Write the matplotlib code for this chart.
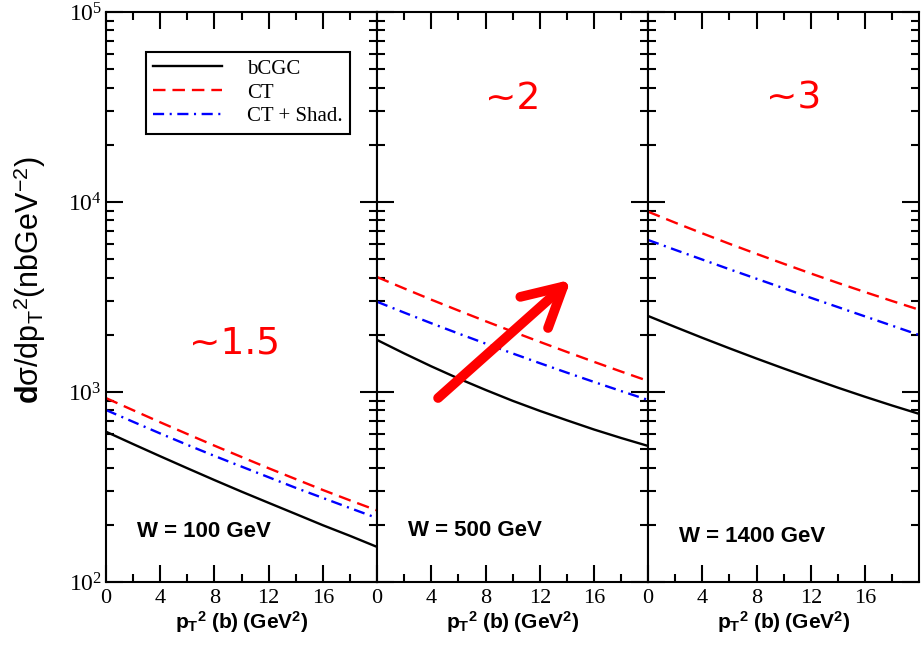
import matplotlib
matplotlib.use("Agg")
import matplotlib.pyplot as plt
from matplotlib.ticker import FixedLocator, NullFormatter, LogLocator

plt.rcParams["mathtext.fontset"] = "custom"
plt.rcParams["mathtext.rm"] = "Liberation Serif"
plt.rcParams["mathtext.sf"] = "Liberation Sans"
plt.rcParams["mathtext.bf"] = "Liberation Sans:bold"
plt.rcParams["mathtext.it"] = "Liberation Serif:italic"
plt.rcParams["lines.scale_dashes"] = False

# pT^2 grid (GeV^2)
pt2 = [0, 2, 4, 6, 8, 10, 12, 14, 16, 18, 20]

# dsigma/dpT^2 (nb GeV^-2), one set per energy
bcgc_100 = [618, 532, 459, 397, 344, 299, 261, 228, 199, 175, 153]
ct_100 = [929, 802, 693, 601, 522, 455, 397, 348, 305, 269, 238]
shad_100 = [804, 697, 605, 527, 461, 405, 356, 313, 277, 245, 217]

bcgc_500 = [1879, 1596, 1365, 1178, 1026, 899, 796, 710, 635, 573, 520]
ct_500 = [4027, 3508, 3062, 2685, 2360, 2080, 1837, 1626, 1442, 1282, 1143]
shad_500 = [2985, 2618, 2301, 2032, 1799, 1596, 1419, 1265, 1130, 1012, 908]

bcgc_1400 = [2512, 2198, 1928, 1698, 1500, 1330, 1183, 1054, 944, 849, 767]
ct_1400 = [8892, 7780, 6839, 6026, 5333, 4732, 4207, 3750, 3357, 3013, 2710]
shad_1400 = [6310, 5598, 4977, 4426, 3945, 3516, 3133, 2799, 2500, 2234, 1995]

energies = ["W = 100 GeV", "W = 500 GeV", "W = 1400 GeV"]
ratios = ["~1.5", "~2", "~3"]
series_names = ["bCGC", "CT", "CT + Shad."]

xticks = [0, 4, 8, 12, 16]
xticklabels = ["0", "4", "8", "12", "16"]
yticks = [1e2, 1e3, 1e4, 1e5]
yticklabels = [r"$\mathrm{10}^{\mathrm{2}}$", r"$\mathrm{10}^{\mathrm{3}}$",
               r"$\mathrm{10}^{\mathrm{4}}$", r"$\mathrm{10}^{\mathrm{5}}$"]

panels = [
    (bcgc_100, ct_100, shad_100),
    (bcgc_500, ct_500, shad_500),
    (bcgc_1400, ct_1400, shad_1400),
]
label_y = [0.088, 0.091, 0.079]

fig = plt.figure(figsize=(9.22, 6.49), dpi=100)
left, bottom, width, height = 0.115, 0.1032, 0.294, 0.8783
serif = "Liberation Serif"

axes = []
for i, (bcgc, ct, shad) in enumerate(panels):
    ax = fig.add_axes([left + i * width, bottom, width, height])
    axes.append(ax)
    ax.plot(pt2, bcgc, color="black", lw=1.7, label=series_names[0])
    ax.plot(pt2, ct, color="red", lw=1.7, dashes=(9, 5), label=series_names[1])
    ax.plot(pt2, shad, color="blue", lw=1.7, dashes=(8, 4, 1.5, 4),
            label=series_names[2])
    ax.set_yscale("log")
    ax.set_xlim(0, 20)
    ax.set_ylim(1e2, 1e5)

    ax.xaxis.set_major_locator(FixedLocator(xticks))
    ax.set_xticklabels(xticklabels, fontfamily=serif, fontsize=16)
    ax.xaxis.set_minor_locator(FixedLocator([2, 6, 10, 14, 18]))
    ax.yaxis.set_major_locator(FixedLocator(yticks))
    ax.yaxis.set_minor_locator(LogLocator(base=10, subs=range(2, 10)))
    ax.yaxis.set_minor_formatter(NullFormatter())
    if i == 0:
        ax.set_yticklabels(yticklabels, fontsize=17)
    else:
        ax.set_yticklabels([])

    ax.tick_params(which="both", direction="in", top=True, right=True,
                   width=1.5, color="black")
    ax.tick_params(which="major", length=12, pad=5)
    ax.tick_params(which="minor", length=6)
    ax.tick_params(axis="y", which="major", pad=3)
    for sp in ax.spines.values():
        sp.set_linewidth(1.5)

    ax.set_xlabel(r"$\mathbf{p}_{\mathbf{T}}{}^{\mathbf{2}}\ \mathbf{(b)\ (GeV}^{\mathbf{2}}\mathbf{)}$",
                  fontsize=15, labelpad=1)
    ax.text(0.115, label_y[i], energies[i], transform=ax.transAxes,
            fontfamily="Liberation Sans", fontweight="bold", fontsize=16,
            ha="left", va="center")

axes[0].text(9.5, 1810, ratios[0], color="red", fontsize=27,
             fontfamily="DejaVu Sans", ha="center", va="center")
axes[1].text(10.0, 35000, ratios[1], color="red", fontsize=27,
             fontfamily="DejaVu Sans", ha="center", va="center")
axes[2].text(10.7, 35000, ratios[2], color="red", fontsize=27,
             fontfamily="DejaVu Sans", ha="center", va="center")

# arrow showing the growth of the CT/bCGC ratio with energy
axes[1].annotate("", xy=(14.3, 3900), xytext=(4.5, 930),
                 arrowprops=dict(arrowstyle="->, head_length=1.4, head_width=0.75",
                                 color="red", lw=7, shrinkA=0, shrinkB=0,
                                 mutation_scale=20, capstyle="round",
                                 joinstyle="round"))

axes[0].set_ylabel(r"$\mathbf{d}\mathsf{σ/dp}_{\mathsf{T}}{}^{\mathsf{2}}\mathsf{(nbGeV}^{\mathsf{-2}}\mathsf{)}$",
                   fontsize=22)
axes[0].yaxis.set_label_coords(-0.215, 0.53)

leg = axes[0].legend(loc="upper left", bbox_to_anchor=(0.148, 0.93),
                     borderaxespad=0, prop={"family": serif, "size": 15},
                     handlelength=3.3, labelspacing=0.2, borderpad=0.35,
                     handletextpad=1.2, fancybox=False, framealpha=1)
leg.get_frame().set_edgecolor("black")
leg.get_frame().set_linewidth(1.5)

fig.savefig("out.png", dpi=100)
